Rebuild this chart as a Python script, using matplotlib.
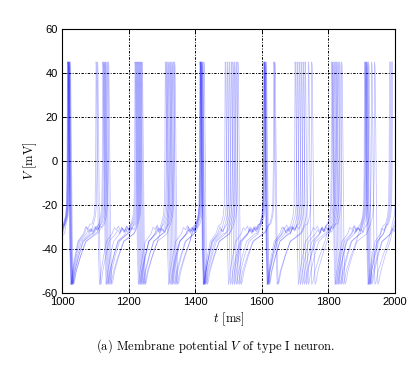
import numpy as np
import matplotlib
matplotlib.use('Agg')
import matplotlib.pyplot as plt

plt.rcParams['mathtext.fontset'] = 'cm'
plt.rcParams['axes.formatter.use_mathtext'] = True

# spike peak times [ms] of each trace
tr1 = [925, 1018, 1106, 1225, 1318, 1416, 1502, 1607, 1706, 1813, 1911, 1990]
tr2 = [928, 1020, 1125, 1231, 1326, 1420, 1518, 1611, 1718, 1825, 1917, 2010]
tr3 = [922, 1016, 1102, 1219, 1310, 1414, 1490, 1606, 1700, 1810, 1909, 1984]
tr4 = [930, 1022, 1135, 1237, 1334, 1422, 1523, 1636, 1740, 1834, 1930, 2016]
tr5 = [926, 1019, 1128, 1222, 1314, 1415, 1496, 1608, 1712, 1817, 1913, 1987]
tr6 = [932, 1024, 1139, 1240, 1338, 1426, 1528, 1639, 1750, 1840, 1939, 2024]
tr7 = [924, 1017, 1122, 1228, 1322, 1417, 1508, 1609, 1724, 1821, 1915, 1993]
tr8 = [929, 1021, 1131, 1234, 1330, 1418, 1513, 1613, 1730, 1829, 1921, 2004]
traces = [tr1, tr2, tr3, tr4, tr5, tr6, tr7, tr8]

# shape of one spike (offset from peak [ms], V [mV])
spike_dt = [-3, -1.5, 0, 1.5, 4, 7, 10]
spike_v = [-20, -5, 45, 43, 5, -40, -56]
# recovery after the trough (offset from trough [ms], V [mV])
rec_dt = [2, 6, 15, 25, 45]
rec_v = [-55, -50, -43, -36.5, -33]
# how slowly each trace recovers
rec_stretch = [1.0, 1.35, 0.85, 1.6, 1.15, 1.45, 0.9, 1.25]
# slow ramp just before the next spike
ramp_dt = [-12, -6]
ramp_v = [-28.5, -25]
# plateau level between recovery and ramp, with the visible jitter
plateau_v = [-33, -31.6, -33.6, -31.2, -32.8, -30.8, -32.6, -30.4, -31.8, -30.2]

fig = plt.figure(figsize=(4.17, 3.66), dpi=100)
ax = fig.add_axes([0.149, 0.199, 0.798, 0.722])

for k, sp in enumerate(traces):
    t, v = [], []
    for i in range(len(sp) - 1):
        s, s2 = sp[i], sp[i + 1]
        for dt, vv in zip(spike_dt, spike_v):
            t.append(s + dt)
            v.append(vv)
        tr = s + spike_dt[-1]
        for dt, vv in zip(rec_dt, rec_v):
            if tr + dt * rec_stretch[k] < s2 + ramp_dt[0] - 4:
                t.append(tr + dt * rec_stretch[k])
                v.append(vv)
        t0, t1 = t[-1], s2 + ramp_dt[0]
        n = max(int((t1 - t0) / 6), 0)
        for j in range(1, n):
            t.append(t0 + (t1 - t0) * j / n)
            v.append(plateau_v[(j + k * 3) % len(plateau_v)] + 2.0 * j / n)
        for dt, vv in zip(ramp_dt, ramp_v):
            t.append(s2 + dt)
            v.append(vv)
    for dt, vv in zip(spike_dt[:3], spike_v[:3]):
        t.append(sp[-1] + dt)
        v.append(vv)
    ax.plot(t, v, color='#0000ff', alpha=0.25, lw=0.55)

ax.set_xlim(1000, 2000)
ax.set_ylim(-60, 60)
ax.set_xticks(np.arange(1000, 2001, 200))
ax.set_yticks(np.arange(-60, 61, 20))
ax.grid(True, color='black', lw=0.7, linestyle=(0, (2.5, 1.5, 1, 1.5)))
ax.tick_params(direction='in', length=3, width=0.7, top=True, right=True,
               labelsize=8, pad=3)
ax.set_xticklabels([str(x) for x in ax.get_xticks().astype(int)],
                   family='Liberation Sans')
ax.set_yticklabels([str(y) for y in ax.get_yticks().astype(int)],
                   family='Liberation Sans')
for sp in ax.spines.values():
    sp.set_linewidth(0.8)

ax.set_xlabel(r'$t$ [ms]', family='cmr10', fontsize=9, labelpad=2)
ax.set_ylabel(r'$V$ [mV]', family='cmr10', fontsize=9, labelpad=2)
fig.text(0.518, 0.055, r'(a) Membrane potential $V$ of type I neuron.',
         ha='center', va='center', family='cmr10', fontsize=9)

fig.savefig('out.png', dpi=100)
